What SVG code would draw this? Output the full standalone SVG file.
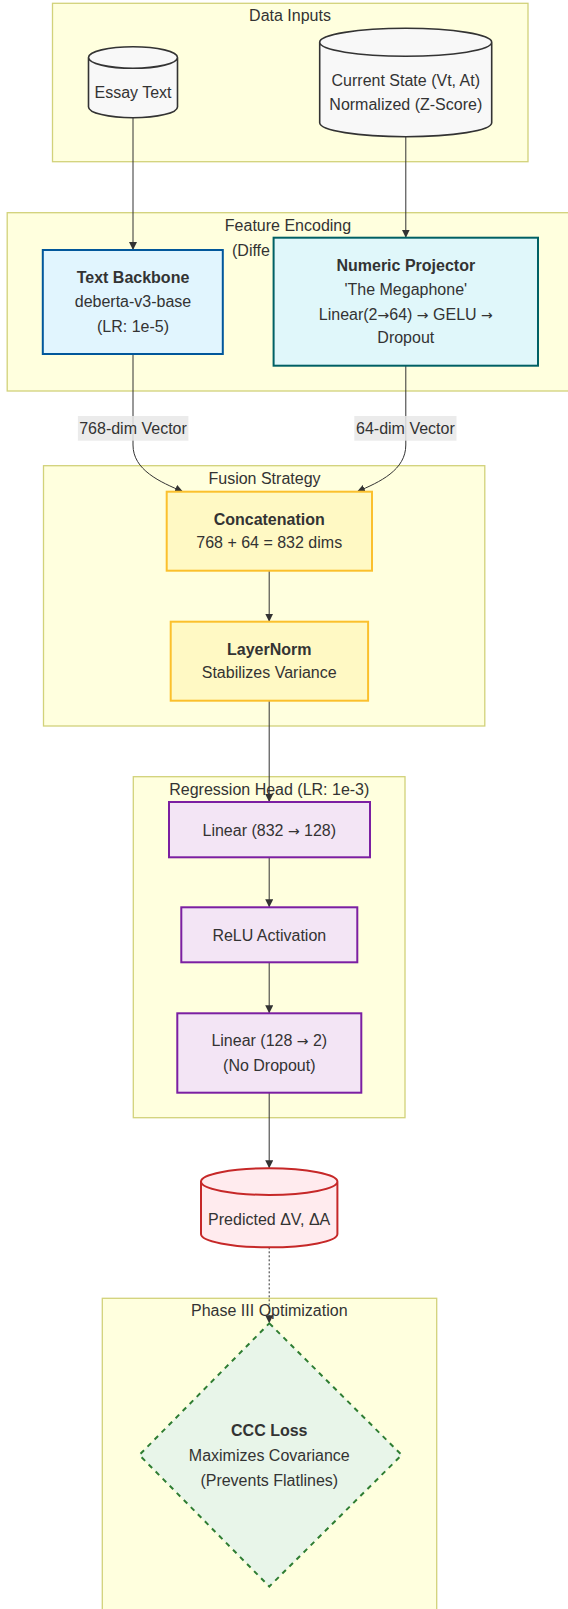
<svg xmlns="http://www.w3.org/2000/svg" width="568" height="1609" viewBox="0 0 568 1609">
  <style>
    text { font-family: "Liberation Sans", Arial, sans-serif; font-size: 16px; fill: #333; text-anchor: middle; }
    .b { font-weight: bold; }
    .ar { font-family: "DejaVu Sans", sans-serif; font-size: 14px; }
    .cluster rect { fill: #ffffde; stroke: #d2d27a; stroke-width: 1.3; }
    .db { fill: #f8f8f8; stroke: #333; stroke-width: 1.6; }
    .edge { fill: none; stroke: #333; stroke-width: 1; }
    .dotted { stroke-dasharray: 2 2; }
    .lbl { fill: #e8e8e8; opacity: 0.85; }
  </style>
  <defs>
    <marker id="arrow" viewBox="0 0 10 10" refX="10" refY="5" markerWidth="8" markerHeight="8" markerUnits="userSpaceOnUse" orient="auto">
      <path d="M0,0 L10,5 L0,10 z" fill="#333"/>
    </marker>
  </defs>

  <!-- clusters -->
  <g class="cluster" id="cluster-inputs">
    <rect x="52.5" y="3.3" width="475.5" height="158.4"/>
    <text x="290" y="20.5">Data Inputs</text>
  </g>
  <g class="cluster" id="cluster-encoding">
    <rect x="7.2" y="212.7" width="570" height="178.3"/>
    <text x="288" y="230.5">Feature Encoding</text>
    <text x="232" y="255.5" style="text-anchor:start">(Diffe</text>
  </g>
  <g class="cluster" id="cluster-fusion">
    <rect x="43.5" y="465.7" width="441.3" height="260.3"/>
    <text x="264.5" y="483.8">Fusion Strategy</text>
  </g>
  <g class="cluster" id="cluster-head">
    <rect x="133.3" y="776.7" width="271.7" height="341"/>
    <text x="269.3" y="794.5">Regression Head (LR: 1e-3)</text>
  </g>
  <g class="cluster" id="cluster-opt">
    <rect x="102.3" y="1298.3" width="334.4" height="330"/>
    <text x="269.3" y="1316.2">Phase III Optimization</text>
  </g>

  <!-- connectors -->
  <g id="connectors">
    <path class="edge" d="M133,118 L133,250" marker-end="url(#arrow)"/>
    <path class="edge" d="M405.8,137 L405.8,237.7" marker-end="url(#arrow)"/>
    <path class="edge" d="M133,354 L133,445 C133,470 160,482 183,491.7" marker-end="url(#arrow)"/>
    <path class="edge" d="M405.8,365.7 L405.8,445 C405.8,470 380,482 357,491.7" marker-end="url(#arrow)"/>
    <path class="edge" d="M269.2,570.7 L269.2,621.7" marker-end="url(#arrow)"/>
    <path class="edge" d="M269.2,700.7 L269.2,802" marker-end="url(#arrow)"/>
    <path class="edge" d="M269.2,857.3 L269.2,907.3" marker-end="url(#arrow)"/>
    <path class="edge" d="M269.2,962.3 L269.2,1013.3" marker-end="url(#arrow)"/>
    <path class="edge" d="M269.2,1092.7 L269.2,1168.3" marker-end="url(#arrow)"/>
    <path class="edge dotted" d="M269.2,1247.3 L269.2,1323.3" marker-end="url(#arrow)"/>
    <g id="label-768">
      <rect class="lbl" x="77.9" y="416" width="110.5" height="24.7"/>
      <text x="133" y="434">768-dim Vector</text>
    </g>
    <g id="label-64">
      <rect class="lbl" x="354.3" y="416" width="102.2" height="24.7"/>
      <text x="405.4" y="434">64-dim Vector</text>
    </g>
  </g>

  <!-- nodes -->
  <g id="essay-text">
    <path class="db" d="M88.5,57.5 A44.5,10.8 0 0 0 177.5,57.5 A44.5,10.8 0 0 0 88.5,57.5 L88.5,106.9 A44.5,10.8 0 0 0 177.5,106.9 L177.5,57.5"/>
    <text x="133" y="98.2">Essay Text</text>
  </g>
  <g id="current-state">
    <path class="db" d="M319.7,42.3 A86,14 0 0 0 491.7,42.3 A86,14 0 0 0 319.7,42.3 L319.7,122.7 A86,14 0 0 0 491.7,122.7 L491.7,42.3"/>
    <text x="405.8" y="86.2">Current State (Vt, At)</text>
    <text x="405.8" y="109.8">Normalized (Z-Score)</text>
  </g>
  <g id="text-backbone">
    <rect x="42.8" y="250" width="180" height="104" fill="#e1f5fe" stroke="#01579b" stroke-width="2"/>
    <text class="b" x="133" y="282.8">Text Backbone</text>
    <text x="133" y="307.2">deberta-v3-base</text>
    <text x="133" y="332.2">(LR: 1e-5)</text>
  </g>
  <g id="numeric-projector">
    <rect x="273.6" y="237.7" width="264.4" height="128" fill="#e0f7fa" stroke="#006064" stroke-width="2"/>
    <text class="b" x="405.8" y="270.5">Numeric Projector</text>
    <text x="405.8" y="294.8">'The Megaphone'</text>
    <text x="405.8" y="319.5">Linear(2<tspan class="ar">→</tspan>64) <tspan class="ar">→</tspan> GELU <tspan class="ar">→</tspan></text>
    <text x="405.8" y="343.2">Dropout</text>
  </g>
  <g id="concatenation">
    <rect x="166.7" y="491.7" width="205.3" height="79" fill="#fff9c4" stroke="#fbc02d" stroke-width="2"/>
    <text class="b" x="269.2" y="524.5">Concatenation</text>
    <text x="269.2" y="548.2">768 + 64 = 832 dims</text>
  </g>
  <g id="layernorm">
    <rect x="170.7" y="621.7" width="197.4" height="79" fill="#fff9c4" stroke="#fbc02d" stroke-width="2"/>
    <text class="b" x="269.2" y="654.5">LayerNorm</text>
    <text x="269.2" y="678.2">Stabilizes Variance</text>
  </g>
  <g id="linear-1">
    <rect x="169" y="802" width="201" height="55.3" fill="#f3e5f5" stroke="#7b1fa2" stroke-width="2"/>
    <text x="269.3" y="835.5">Linear (832 <tspan class="ar">→</tspan> 128)</text>
  </g>
  <g id="relu">
    <rect x="181.3" y="907.3" width="176" height="55" fill="#f3e5f5" stroke="#7b1fa2" stroke-width="2"/>
    <text x="269.3" y="940.5">ReLU Activation</text>
  </g>
  <g id="linear-2">
    <rect x="177.3" y="1013.3" width="184" height="79.4" fill="#f3e5f5" stroke="#7b1fa2" stroke-width="2"/>
    <text x="269.3" y="1046.2">Linear (128 <tspan class="ar">→</tspan> 2)</text>
    <text x="269.3" y="1070.5">(No Dropout)</text>
  </g>
  <g id="predicted">
    <path d="M201,1181.6 A68.2,13.3 0 0 0 337.4,1181.6 A68.2,13.3 0 0 0 201,1181.6 L201,1234 A68.2,13.3 0 0 0 337.4,1234 L337.4,1181.6" fill="#ffebee" stroke="#c62828" stroke-width="2"/>
    <text x="269.2" y="1224.5">Predicted ΔV, ΔA</text>
  </g>
  <g id="ccc-loss">
    <polygon points="269.3,1323.3 401.7,1455 269.3,1586.5 139.3,1455" fill="#e8f5e9" stroke="#2e7d32" stroke-width="2" stroke-dasharray="5 5"/>
    <text class="b" x="269.3" y="1436.2">CCC Loss</text>
    <text x="269.3" y="1460.5">Maximizes Covariance</text>
    <text x="269.3" y="1485.5">(Prevents Flatlines)</text>
  </g>
</svg>
